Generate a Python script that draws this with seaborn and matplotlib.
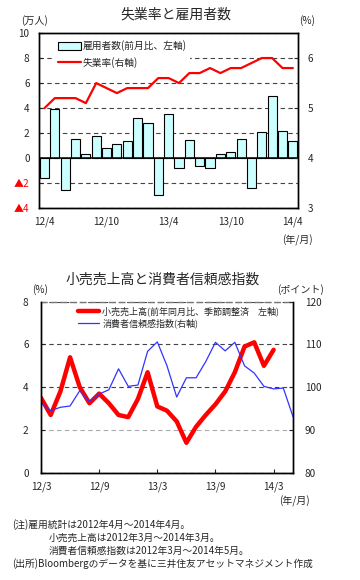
import numpy as np
import pandas as pd
import matplotlib
matplotlib.use("Agg")
import matplotlib.pyplot as plt
import seaborn as sns

# ---------------- data ----------------
emp_months = ["12/4", "12/5", "12/6", "12/7", "12/8", "12/9", "12/10", "12/11", "12/12",
              "13/1", "13/2", "13/3", "13/4", "13/5", "13/6", "13/7", "13/8", "13/9",
              "13/10", "13/11", "13/12", "14/1", "14/2", "14/3", "14/4"]
employment = [-1.6, 3.95, -2.5, 1.5, 0.3, 1.8, 0.85, 1.1, 1.35, 3.2, 2.8, -2.95, 3.5,
              -0.75, 1.45, -0.65, -0.75, 0.35, 0.5, 1.55, -2.35, 2.1, 5.0, 2.2, 1.4]
unemployment = [5.0, 5.2, 5.2, 5.2, 5.1, 5.5, 5.4, 5.3, 5.4, 5.4, 5.4, 5.6, 5.6, 5.5,
                5.7, 5.7, 5.8, 5.7, 5.8, 5.8, 5.9, 6.0, 6.0, 5.8, 5.8]
top_xticks = ["12/4", "12/10", "13/4", "13/10", "14/4"]
left_ticks_top = [-4, -2, 0, 2, 4, 6, 8, 10]
left_ticklabels_top = ["▲4", "▲2", "0", "2", "4", "6", "8", "10"]
right_ticks_top = [3, 4, 5, 6]

retail = [3.5, 2.7, 3.8, 5.4, 4.0, 3.25, 3.7, 3.25, 2.7, 2.6, 3.45, 4.7, 3.1, 2.9, 2.4,
          1.4, 2.15, 2.7, 3.2, 3.8, 4.7, 5.9, 6.1, 5.0, 5.75]
confidence = [96.3, 94.5, 95.3, 95.6, 99.2, 96.6, 98.4, 99.4, 104.3, 100.2, 100.5, 108.4,
              110.6, 105.0, 97.7, 102.2, 102.2, 106.0, 110.5, 108.5, 110.5, 105.0, 103.3,
              100.2, 99.6, 99.8, 93.1]
bottom_xticks = ["12/3", "12/9", "13/3", "13/9", "14/3"]

notes = ["(注)雇用統計は2012年4月～2014年4月。",
         "小売売上高は2012年3月～2014年3月。",
         "消費者信頼感指数は2012年3月～2014年5月。",
         "(出所)Bloombergのデータを基に三井住友アセットマネジメント作成"]

# ---------------- style ----------------
sns.set_style("white")
FAM = ["Noto Sans CJK JP", "DejaVu Sans"]
plt.rcParams["font.family"] = FAM
plt.rcParams["axes.unicode_minus"] = False

W, H = 360, 580
fig = plt.figure(figsize=(W / 100, H / 100), dpi=100)
fx = lambda x: x / W
fy = lambda y: 1 - y / H

def axes_px(l, t, r, b):
    return fig.add_axes([fx(l), fy(b), fx(r) - fx(l), fy(t) - fy(b)])

# ---------------- top chart ----------------
ax1 = axes_px(39.3, 33, 298, 208.3)
df_emp = pd.DataFrame({"month": emp_months, "emp": employment})
sns.barplot(data=df_emp, x="month", y="emp", ax=ax1, color="#ccffff", saturation=1,
            edgecolor="black", linewidth=0.8, width=0.88, zorder=3)
ax1.set_ylim(-4, 10)
ax1.set_yticks(left_ticks_top)
ax1.set_yticklabels(left_ticklabels_top)
for lbl in ax1.get_yticklabels():
    if "▲" in lbl.get_text():
        lbl.set_color("red")
ax1.set_xticks([emp_months.index(m) for m in top_xticks])
ax1.set_xticklabels(top_xticks)
ax1.set_xlabel("")
ax1.set_ylabel("")
ax1.tick_params(axis="y", direction="in", length=3, pad=7, labelsize=7.2, left=True)
ax1.tick_params(axis="x", length=0, pad=6, labelsize=7.2)
ax1.grid(axis="y", color="#444444", linestyle=(0, (4, 3)), linewidth=0.8)
ax1.set_axisbelow(True)
ax1.axhline(0, color="black", lw=1.1, zorder=4)
for s in ax1.spines.values():
    s.set_color("black")
    s.set_linewidth(1.0)

ax1b = ax1.twinx()
sns.lineplot(x=np.arange(len(unemployment)), y=unemployment, ax=ax1b, color="#ff0000",
             lw=1.6, zorder=5)
ax1b.set_ylim(3, 6.5)
ax1b.set_yticks(right_ticks_top)
ax1b.tick_params(axis="y", direction="in", length=3, pad=7, labelsize=7.2, right=True)
ax1b.set_ylabel("")
ax1.set_xlim(-0.5, len(emp_months) - 0.5)
for s in ax1b.spines.values():
    s.set_color("black")
    s.set_linewidth(1.0)

leg1 = ax1b.legend([ax1.containers[0], ax1b.lines[0]], ["雇用者数(前月比、左軸)", "失業率(右軸)"],
                   loc="upper left", bbox_to_anchor=(fx(55), fy(37)),
                   bbox_transform=fig.transFigure, fontsize=7.0, frameon=True,
                   facecolor="white", edgecolor="none", framealpha=1, fancybox=False,
                   borderaxespad=0, borderpad=0.35, handlelength=2.3, handleheight=0.9,
                   handletextpad=0.15, labelspacing=0.55)

fig.text(fx(176), fy(15), "失業率と雇用者数", ha="center", va="center", fontsize=10)
fig.text(fx(35), fy(21), "(万人)", ha="center", va="center", fontsize=7.2)
fig.text(fx(307), fy(21), "(%)", ha="center", va="center", fontsize=7.2)
fig.text(fx(297), fy(240), "(年/月)", ha="center", va="center", fontsize=7.2)

# ---------------- bottom chart ----------------
ax2 = axes_px(41, 301.7, 293, 472.7)
sns.lineplot(x=np.arange(len(retail)), y=retail, ax=ax2, color="#ff0000", lw=3.2,
             legend=False)
ax2.set_ylim(0, 8)
ax2.set_yticks([0, 2, 4, 6, 8])
ax2.set_xlim(0, 26)
ax2.set_xticks([0, 6, 12, 18, 24])
ax2.set_xticklabels(bottom_xticks)
ax2.set_xlabel("")
ax2.set_ylabel("")
ax2.tick_params(axis="y", direction="in", length=3, pad=9, labelsize=7.2, left=True)
ax2.tick_params(axis="x", direction="in", length=3, pad=6.5, labelsize=7.2, bottom=True)
ax2.grid(axis="y", color="#444444", linestyle=(0, (4, 3)), linewidth=0.8)
ax2.set_axisbelow(True)
for s in ax2.spines.values():
    s.set_color("black")
    s.set_linewidth(1.0)
ax2.spines["top"].set_color("#777777")
ax2.spines["top"].set_linestyle((0, (4, 3)))
gl = ax2.get_ygridlines()
gl[1].set_color("#aaaaaa")

ax2b = ax2.twinx()
sns.lineplot(x=np.arange(len(confidence)), y=confidence, ax=ax2b, color="#3333ff", lw=0.9,
             legend=False)
ax2b.set_ylim(80, 120)
ax2b.set_yticks([80, 90, 100, 110, 120])
ax2b.set_ylabel("")
ax2b.tick_params(axis="y", direction="in", length=3, pad=8.5, labelsize=7.2, right=True)
for s in ax2b.spines.values():
    s.set_color("black")
    s.set_linewidth(1.0)
ax2b.spines["top"].set_visible(False)
ax2.set_xlim(0, 26)

leg2 = ax2b.legend([ax2.lines[0], ax2b.lines[0]],
                   ["小売売上高(前年同月比、季節調整済　左軸)", "消費者信頼感指数(右軸)"],
                   loc="upper left", bbox_to_anchor=(fx(76), fy(305)),
                   bbox_transform=fig.transFigure, fontsize=6.5, frameon=False,
                   borderaxespad=0, borderpad=0.2, handlelength=2.4,
                   handletextpad=0.3, labelspacing=0.2)

fig.text(fx(163), fy(280), "小売売上高と消費者信頼感指数", ha="center", va="center", fontsize=10)
fig.text(fx(40), fy(290), "(%)", ha="center", va="center", fontsize=7.2)
fig.text(fx(300), fy(290), "(ポイント)", ha="center", va="center", fontsize=7.2)
fig.text(fx(294), fy(501), "(年/月)", ha="center", va="center", fontsize=7.2)

# ---------------- notes ----------------
note_pos = [(12, 525), (49, 538), (49, 551), (12, 564)]
for (x, y), t in zip(note_pos, notes):
    fig.text(fx(x), fy(y), t, ha="left", va="center", fontsize=7.0)

fig.savefig("out.png", dpi=100)
